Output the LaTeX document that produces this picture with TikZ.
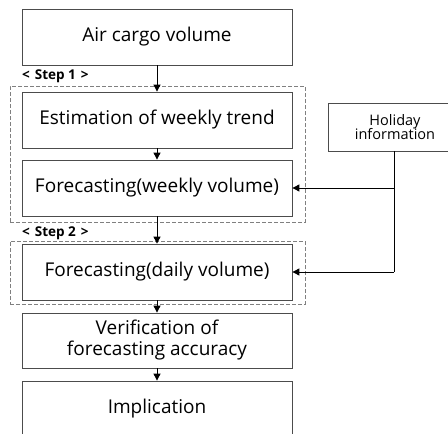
\documentclass[tikz,border=0pt]{standalone}
\usepackage{fontspec}
\setmainfont{Open Sans}
\usetikzlibrary{arrows.meta}
\begin{document}
\begin{tikzpicture}[x=1pt,y=1pt,
  box/.style={draw=black!70,line width=0.8pt,fill=white,inner sep=0pt,minimum width=270pt,font=\fontsize{19}{22}\selectfont,align=center},
  grp/.style={draw=black!50,dash pattern=on 4pt off 2pt,line width=0.7pt,inner sep=0pt,minimum width=295pt},
  lbl/.style={font=\bfseries\fontsize{13.5}{15}\selectfont,anchor=west,inner sep=0pt},
  arr/.style={-{Triangle[length=7pt,width=7pt]},line width=0.9pt}]
\useasboundingbox (0,0) rectangle (448,-434);
\begin{scope}
\clip (0,0) rectangle (448,-434);
\node[grp,minimum height=136pt] (g1) at (157.5,-154) {};
\node[grp,minimum height=63pt] (g2) at (157.5,-272.5) {};
\node[box,minimum height=56pt] (b1) at (157,-37) {Air cargo volume};
\node[box,minimum height=56pt] (b2) at (157,-120) {Estimation of weekly trend};
\node[box,minimum height=56pt] (b3) at (157,-188) {Forecasting(weekly volume)};
\node[box,minimum height=56pt] (b4) at (157,-272) {Forecasting(daily volume)};
\node[box,minimum height=55pt] (b5) at (157,-340.5) {Verification of\\[-1pt]forecasting accuracy};
\node[box,minimum height=60pt] (b6) at (157,-411) {};
\node[font=\fontsize{19}{22}\selectfont,inner sep=0pt] (t6) at (157,-409) {Implication};
\node[box,minimum width=134pt,minimum height=48pt,font=\fontsize{14.5}{16}\selectfont] (h) at (395,-127) {Holiday\\[-2pt]information};
\node[lbl] (s1) at (22,-76) {<\hspace{5pt}Step 1\hspace{5pt}>};
\node[lbl] (s2) at (22,-233) {<\hspace{5pt}Step 2\hspace{5pt}>};
\draw[arr] (b1.south) -- (b2.north);
\draw[arr] (b2.south) -- (b3.north);
\draw[arr] (b3.south) -- (b4.north);
\draw[arr] (b4.south) -- (b5.north);
\draw[arr] (b5.south) -- (b6.north);
\coordinate (j1) at (394,-188);
\coordinate (j2) at (394,-272);
\draw[line width=0.9pt] (h.south -| j1) -- (j2);
\draw[arr] (j1) -- (b3.east);
\draw[arr] (j2) -- (b4.east);
\end{scope}
\end{tikzpicture}
\end{document}
